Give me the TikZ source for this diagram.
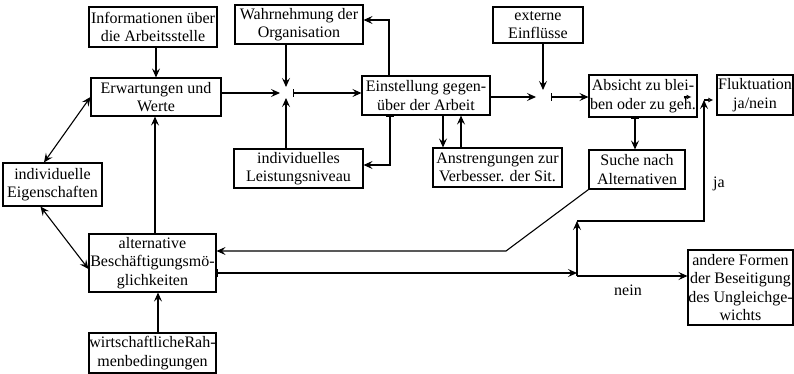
\documentclass[tikz,border=0pt]{standalone}
\usepackage{fontspec}
\setmainfont{Liberation Serif}
\usetikzlibrary{arrows.meta}
\tikzset{
  box/.style={draw, line width=1.1pt, inner sep=0pt, align=center, font=\fontsize{16}{18.5}\selectfont},
  lbl/.style={inner sep=0pt, font=\fontsize{16}{18.5}\selectfont},
  arr/.style={line width=1.1pt, -{Stealth[length=9pt,width=8pt,inset=3.5pt]}},
  dblarr/.style={line width=1.1pt, {Stealth[length=9pt,width=8pt,inset=3.5pt]}-{Stealth[length=9pt,width=8pt,inset=3.5pt]}},
  bararr/.style={line width=1.1pt, {Bar[width=8pt]}-{Stealth[length=9pt,width=8pt,inset=3.5pt]}},
  tinyarr/.style={line width=1.1pt, -{Latex[open,length=5pt,width=5pt]}},
}
\begin{document}
\begin{tikzpicture}[x=1pt,y=-1pt]
\useasboundingbox (0,0) rectangle (794,374);
% boxes
\node[box, minimum width=128pt, minimum height=40pt] (info) at (153,27) {Informationen über\\die Arbeitsstelle};
\node[box, minimum width=130pt, minimum height=38pt] (erw) at (156,97) {Erwartungen und\\Werte};
\node[box, minimum width=128pt, minimum height=39pt] (wahr) at (299,24.5) {Wahrnehmung der\\Organisation};
\node[box, minimum width=129pt, minimum height=39pt] (leist) at (298.5,168.5) {individuelles\\Leistungsniveau};
\node[box, minimum width=99pt, minimum height=43pt] (eig) at (52.5,184.5) {individuelle\\Eigenschaften};
\node[box, minimum width=127pt, minimum height=58pt] (alt) at (152.5,263) {alternative\\Beschäftigungsmö-\\glichkeiten};
\node[box, minimum width=127pt, minimum height=40pt] (wirt) at (152.5,353) {wirtschaftlicheRah-\\menbedingungen};
\node[box, minimum width=128pt, minimum height=39pt] (einst) at (426,95.5) {Einstellung gegen-\\über der Arbeit};
\node[box, minimum width=129pt, minimum height=39pt] (anst) at (497.5,167.5) {Anstrengungen zur\\Verbesser. der Sit.};
\node[box, minimum width=90pt, minimum height=36pt] (ext) at (538,25) {externe\\Einflüsse};
\node[box, minimum width=108pt, minimum height=42pt] (abs) at (643,96) {Absicht zu blei-\\ben oder zu geh.};
\node[box, minimum width=76pt, minimum height=40pt] (fluk) at (755,95) {Fluktuation\\ja/nein};
\node[box, minimum width=96pt, minimum height=39pt] (suche) at (637,169.5) {Suche nach\\Alternativen};
\node[box, minimum width=105pt, minimum height=75pt] (andere) at (740.5,287.5) {andere Formen\\der Beseitigung\\des Ungleichge-\\wichts};
% junctions
\coordinate (J1) at (286,93);
\coordinate (J2) at (543,97);
\coordinate (J3) at (577,276);
\coordinate (J4) at (577,221);
\coordinate (J5) at (704,100);
\coordinate (B1) at (506,251);
% labels
\node[lbl] (ja) at (719,184) {ja};
\node[lbl] (nein) at (628,290) {nein};
% connectors left
\draw[arr] (info.south -| erw.north) -- (erw.north);
\draw[arr] ([xshift=2.5pt]alt.north) -- ([xshift=2.5pt]alt.north |- erw.south);
\draw[arr] ([xshift=5.5pt]wirt.north) -- ([xshift=5.5pt]wirt.north |- alt.south);
\draw[dblarr] ([xshift=-8.5pt]eig.north) -- (erw.west);
\draw[dblarr] ([xshift=-12pt]eig.south) -- ([yshift=-6pt]alt.west);
% junction 1
\draw[arr] (erw.east |- J1) -- ([xshift=-6pt]J1);
\draw[arr] (J1 |- wahr.south) -- ([yshift=6pt]J1);
\draw[arr] (J1 |- leist.north) -- ([yshift=-5pt]J1);
\draw[bararr] ([xshift=7pt]J1) -- (J1 -| einst.west);
% feedback from Einstellung
\draw[arr] ([xshift=-37pt]einst.north) |- ([yshift=4.5pt]wahr.east);
\draw[bararr] ([xshift=-36pt]einst.south) |- ([yshift=3.5pt]leist.east);
\draw[arr] ([xshift=-54.5pt]anst.north |- einst.south) -- ([xshift=-54.5pt]anst.north);
\draw[arr] ([xshift=-36.5pt]anst.north) -- ([xshift=-36.5pt]anst.north |- einst.south);
% junction 2
\draw[arr] (einst.east |- J2) -- ([xshift=-7pt]J2);
\draw[arr] (J2 |- ext.south) -- ([yshift=7pt]J2);
\draw[bararr] ([xshift=8pt]J2) -- (J2 -| abs.west);
% Absicht -> Suche
\draw[bararr] ([xshift=-8pt]abs.south) -- ([xshift=-8pt]abs.south |- suche.north);
% Suche -> alternative
\draw[arr] (suche.south west) -- (B1) -- (B1 -| alt.east);
% alternative -> junction 3
\draw[bararr] ([yshift=-10pt]alt.east) -- ([yshift=3pt]J3);
\draw[arr] (J3) -- (J3 -| andere.west);
\draw[arr] (J3) -- (J4);
\draw[arr] (J4) -| (J5);
% small tips toward Fluktuation
\draw[tinyarr] ([xshift=-14pt,yshift=-1pt]abs.east) -- ([xshift=-6pt,yshift=-1pt]abs.east);
\draw[tinyarr] ([xshift=-12pt,yshift=-5pt]fluk.west) -- ([xshift=-3pt,yshift=-5pt]fluk.west);
\end{tikzpicture}
\end{document}
